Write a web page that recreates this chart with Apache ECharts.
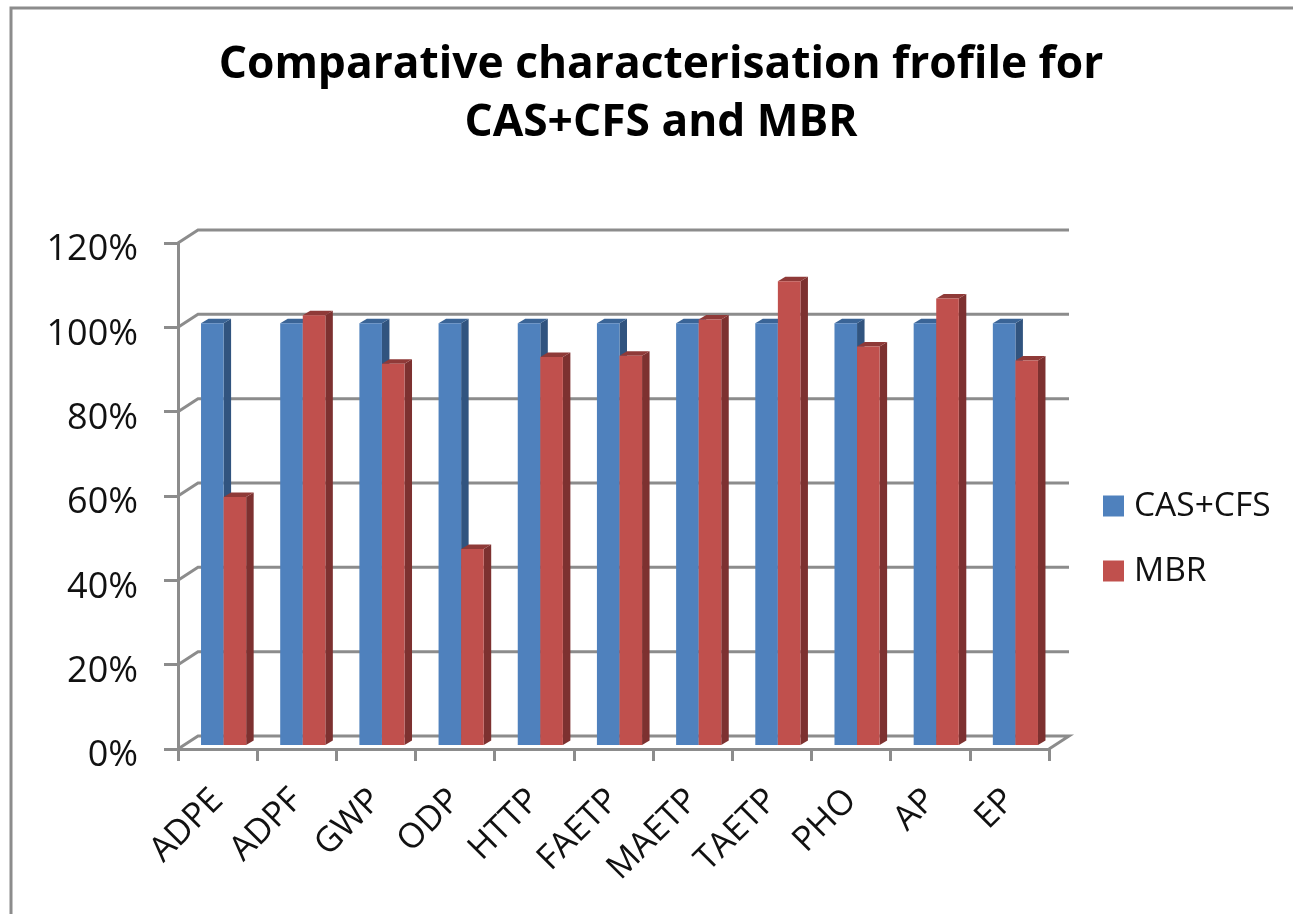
<!DOCTYPE html>
<html>
<head>
<meta charset="utf-8">
<style>html,body{margin:0;padding:0;background:#fff}#c{width:1293px;height:914px}</style>
<script src="https://cdn.jsdelivr.net/npm/echarts@6/dist/echarts.min.js"></script>
</head>
<body>
<div id="c"></div>
<script>
var categories = ['ADPE','ADPF','GWP','ODP','HTTP','FAETP','MAETP','TAETP','PHO','AP','EP'];
var casCfs = [100,100,100,100,100,100,100,100,100,100,100];
var mbr = [58.8,101.9,90.4,46.5,92,92.3,100.9,110,94.5,105.9,91.2];
var yTicks = [0,20,40,60,80,100,120];
var seriesNames = ['CAS+CFS','MBR'];
var titleText = 'Comparative characterisation frofile for\nCAS+CFS and MBR';

var GRID = '#8c8c8c';
var FONT = 'Open Sans';
var WALL = {dx:20, dy:-13};
var BAR_PLANE = {dx:6, dy:-4};
var DEPTH = {dx:7.5, dy:-4.5};
var BAR_FRAC = 0.285;
var PALETTE = [
  {front:'#4F81BD', top:'#3A6496', side:'#31547F'},
  {front:'#C0504D', top:'#8F3A38', side:'#7D3130'}
];

function poly(points, fill){
  return {type:'polygon', shape:{points:points}, style:{fill:fill, stroke:null}};
}
function renderBar(params, api){
  var pal = PALETTE[params.seriesIndex];
  var idx = api.value(0), v = api.value(1);
  var band = api.size([1,0])[0];
  var w = band*BAR_FRAC;
  var base = api.coord([idx,0]);
  var top = api.coord([idx,v]);
  var x0 = base[0]+BAR_PLANE.dx + (params.seriesIndex===0 ? -w : 0);
  var x1 = x0+w;
  var yb = base[1]+BAR_PLANE.dy, yt = top[1]+BAR_PLANE.dy;
  var dx = DEPTH.dx, dy = DEPTH.dy;
  return {type:'group', children:[
    poly([[x1,yb],[x1+dx,yb+dy],[x1+dx,yt+dy],[x1,yt]], pal.side),
    poly([[x0,yt],[x0+dx,yt+dy],[x1+dx,yt+dy],[x1,yt]], pal.top),
    poly([[x0,yb],[x1,yb],[x1,yt],[x0,yt]], pal.front)
  ]};
}
function renderWall(params, api){
  var v = api.value(1);
  var n = categories.length;
  var half = api.size([1,0])[0]/2;
  var l = api.coord([0,v]); l[0]-=half;
  var r = api.coord([n-1,v]); r[0]+=half;
  var pts = [[l[0],l[1]],[l[0]+WALL.dx,l[1]+WALL.dy],[r[0]+WALL.dx,r[1]+WALL.dy]];
  if(v===0){ pts.push([r[0],r[1]]); }
  return {type:'polyline', shape:{points:pts}, style:{stroke:GRID, lineWidth:3, fill:null}};
}

var chart = echarts.init(document.getElementById('c'), null, {renderer:'canvas'});
chart.setOption({
  animation:false,
  backgroundColor:'#fff',
  graphic:[{type:'polyline', silent:true, z:0,
    shape:{points:[[11,914],[11,8],[1293,8]]},
    style:{stroke:GRID, lineWidth:3, fill:null}}],
  title:{text:titleText, left:656, top:31, textAlign:'center',
    textStyle:{fontFamily:FONT, fontWeight:'bold', fontSize:44.3, lineHeight:58, color:'#000'}},
  legend:{data:seriesNames, orient:'vertical', left:1098, top:484, itemWidth:21, itemHeight:21, itemGap:31,
    icon:'rect', textStyle:{fontFamily:FONT, fontSize:33.5, color:'#111', padding:[0,0,0,5]}},
  grid:{left:178, top:243, width:871, height:506},
  xAxis:{type:'category', data:categories,
    axisLine:{lineStyle:{color:GRID,width:3}},
    axisTick:{show:true,length:12,lineStyle:{color:GRID,width:3}},
    axisLabel:{rotate:45,interval:0,margin:46,fontFamily:FONT,fontSize:34.5,color:'#111'},
    splitLine:{show:false}},
  yAxis:{type:'value',min:0,max:120,interval:20,
    axisLine:{show:true,lineStyle:{color:GRID,width:3}},
    axisTick:{show:true,length:14,lineStyle:{color:GRID,width:3}},
    axisLabel:{margin:40,fontFamily:FONT,fontSize:36,color:'#111',verticalAlign:'top',lineHeight:14,formatter:function(v){return v+'%';}},
    splitLine:{show:false}},
  series:[
    {name:seriesNames[0],type:'custom',renderItem:renderBar,itemStyle:{color:PALETTE[0].front},clip:false,z:3,
      encode:{x:0,y:1},data:casCfs.map(function(v,i){return [i,v];})},
    {name:seriesNames[1],type:'custom',renderItem:renderBar,itemStyle:{color:PALETTE[1].front},clip:false,z:3,
      encode:{x:0,y:1},data:mbr.map(function(v,i){return [i,v];})},
    {name:'wall',type:'custom',renderItem:renderWall,silent:true,clip:false,z:1,
      encode:{x:0,y:1},data:yTicks.map(function(v){return [0,v];})}
  ]
});
</script>
</body>
</html>
